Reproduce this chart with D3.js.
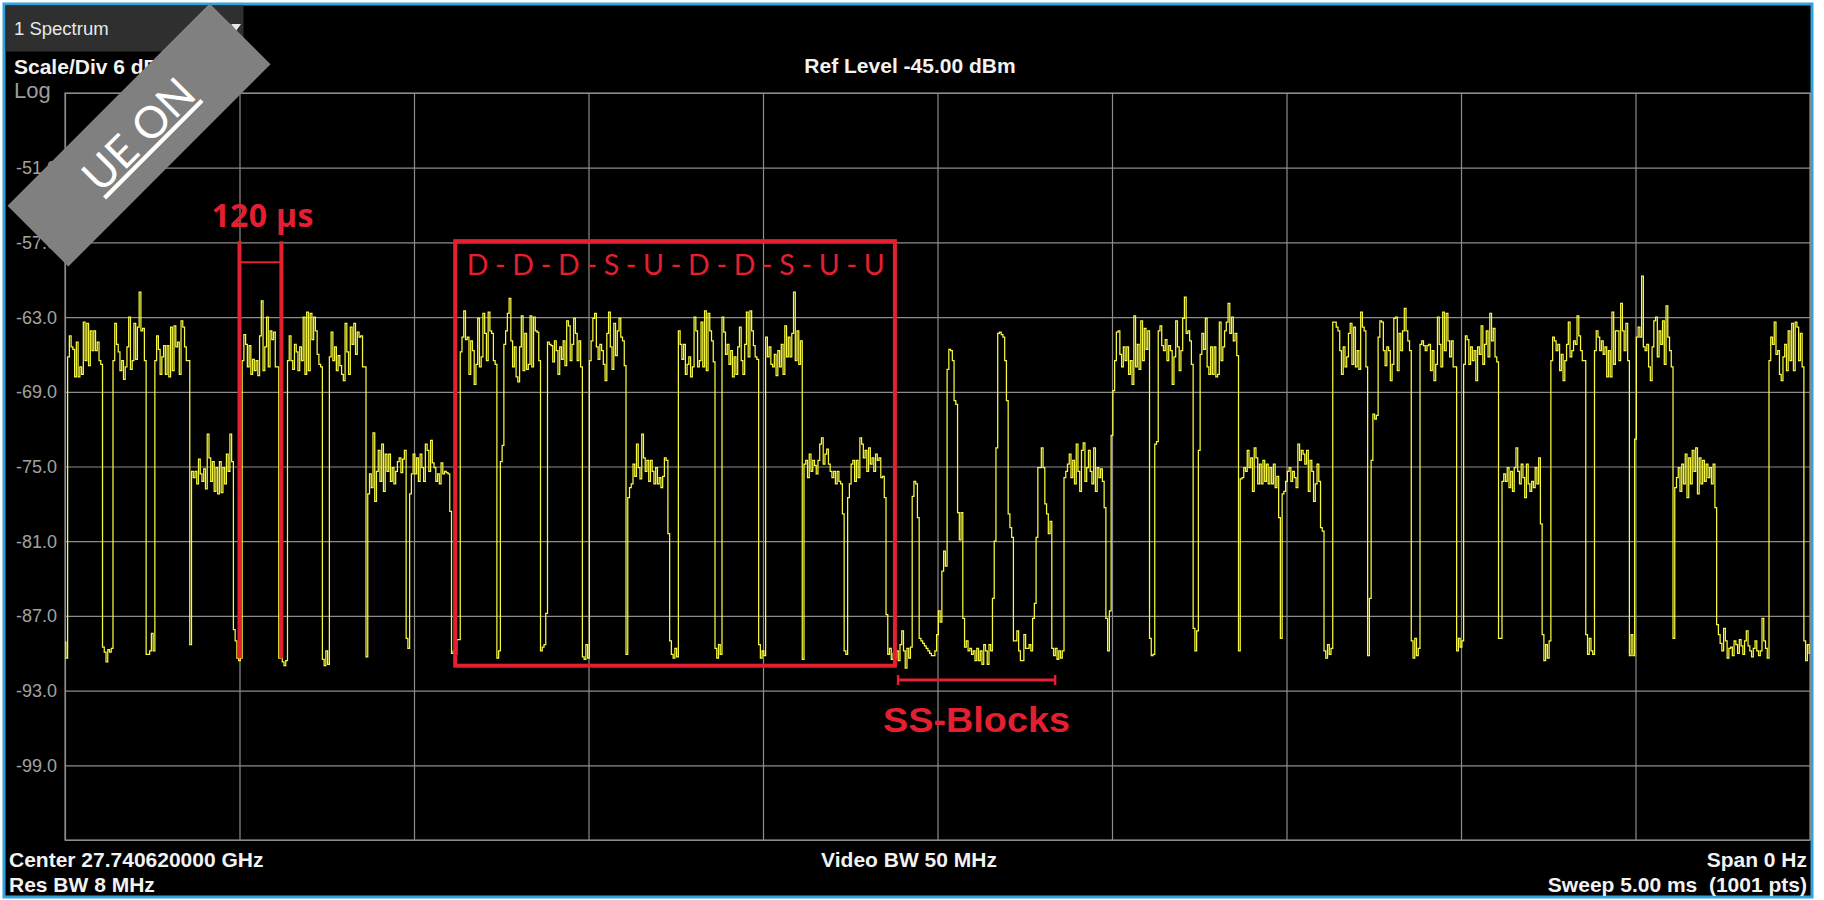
<!DOCTYPE html>
<html>
<head>
<meta charset="utf-8">
<title>1 Spectrum – zero span sweep</title>
<script src="https://cdn.jsdelivr.net/npm/d3@7/dist/d3.min.js"></script>
<style>
  html, body { margin: 0; padding: 0; background: #ffffff; }
  svg { display: block; }
</style>
</head>
<body>
<svg id="screen" width="1824" height="900"></svg>
<script>
// ---- Sweep settings ----
const sweepPoints = 1001;
const sweepTimeUs = 5000;
const refLevelDbm = -45;
const scaleDivDb = 6;
const gridDivisions = 10;

// ---- Level axis labels (dBm) ----
const levelTicks = [-51, -57, -63, -69, -75, -81, -87, -93, -99];

// ---- Trace: one level per sweep point (dBm), 20 points per row ----
const traceDbm = [
  -89.1,-90.4,-66.2,-64.5,-65.4,-65.6,-67.8,-65.0,-67.8,-67.0,-67.6,-63.4,-66.5,-63.5,-66.9,-64.1,-65.7,-64.1,-65.7,-65.0,
  -66.5,-66.8,-89.5,-89.9,-90.7,-89.7,-89.9,-89.6,-66.5,-63.5,-65.2,-65.8,-67.3,-66.5,-68.0,-67.0,-65.4,-63.0,-67.2,-66.5,
  -63.5,-66.4,-63.8,-61.0,-64.1,-63.9,-66.5,-90.1,-90.1,-89.8,-88.4,-89.8,-66.5,-64.5,-65.6,-67.6,-66.2,-65.3,-67.6,-65.3,
  -67.8,-63.8,-67.3,-63.7,-65.4,-65.0,-67.6,-63.3,-63.8,-65.4,-66.5,-66.5,-89.3,-75.4,-75.9,-75.4,-76.4,-74.4,-75.6,-76.2,
  -75.2,-76.8,-72.4,-74.3,-76.2,-74.6,-77.0,-75.1,-77.2,-74.6,-77.1,-75.1,-76.4,-74.0,-75.4,-72.4,-74.6,-88.1,-89.0,-90.4,
  -90.6,-90.4,-66.5,-64.4,-65.2,-67.0,-65.3,-67.6,-66.4,-67.3,-66.5,-67.7,-64.5,-61.7,-67.3,-65.4,-63.0,-67.0,-64.1,-64.8,
  -64.2,-67.0,-67.0,-90.4,-86.8,-90.7,-91.0,-90.6,-66.5,-64.5,-66.5,-67.2,-65.2,-65.8,-67.3,-65.4,-66.5,-63.0,-67.6,-62.6,
  -67.3,-62.7,-64.8,-63.0,-64.1,-66.0,-66.8,-67.0,-90.5,-91.0,-89.8,-90.9,-66.2,-64.2,-66.5,-65.4,-67.3,-66.1,-66.9,-67.6,
  -68.1,-63.5,-65.8,-67.6,-63.8,-65.2,-63.5,-66.0,-64.2,-64.6,-64.5,-67.0,-67.0,-90.3,-77.2,-75.6,-76.7,-72.3,-77.8,-75.4,
  -73.7,-76.2,-73.2,-77.0,-74.0,-75.4,-74.0,-76.2,-75.1,-76.4,-75.4,-74.6,-74.3,-75.5,-74.4,-73.7,-88.8,-89.6,-77.2,-75.6,
  -74.0,-75.6,-74.3,-76.2,-74.0,-75.1,-76.2,-73.2,-73.7,-75.4,-72.9,-74.7,-75.1,-76.2,-75.6,-76.4,-74.7,-75.6,-75.4,-75.5,
  -75.6,-78.6,-90.0,-89.8,-90.1,-88.9,-88.9,-65.8,-64.6,-62.5,-64.8,-64.6,-67.6,-64.9,-65.7,-68.4,-66.8,-63.1,-67.0,-66.2,
  -62.7,-64.3,-66.5,-62.6,-64.1,-64.3,-66.5,-66.8,-90.4,-89.8,-74.6,-73.3,-65.2,-64.1,-62.7,-61.5,-64.9,-67.0,-65.4,-67.8,
  -68.2,-65.4,-62.9,-67.3,-64.3,-67.2,-66.8,-62.9,-67.0,-63.0,-64.1,-64.2,-66.5,-89.8,-89.5,-89.3,-86.8,-65.0,-65.2,-65.3,
  -66.6,-64.9,-65.7,-67.6,-65.4,-66.4,-64.9,-66.9,-63.3,-63.7,-66.5,-65.2,-63.1,-64.3,-66.5,-64.9,-67.0,-90.3,-90.5,-89.3,
  -90.4,-66.5,-64.9,-63.1,-62.7,-65.4,-66.4,-65.2,-65.7,-66.8,-68.1,-64.3,-62.6,-65.4,-67.2,-63.5,-66.1,-64.1,-63.1,-64.6,
  -64.9,-66.9,-90.1,-77.5,-76.7,-76.4,-74.8,-75.8,-73.2,-75.1,-76.0,-72.4,-74.3,-75.4,-74.5,-76.2,-74.5,-75.4,-76.4,-75.1,
  -76.4,-75.9,-76.7,-75.8,-74.3,-74.5,-80.4,-89.0,-90.1,-90.4,-89.6,-90.3,-64.1,-65.2,-66.4,-65.2,-67.6,-66.8,-66.2,-67.8,
  -67.0,-63.0,-64.1,-67.0,-66.5,-63.4,-67.0,-62.5,-67.3,-62.7,-64.1,-64.9,-66.6,-89.6,-90.4,-89.3,-90.1,-63.0,-64.2,-66.0,
  -65.2,-66.8,-65.7,-67.8,-66.2,-67.6,-65.4,-63.8,-66.5,-67.6,-65.2,-62.6,-66.2,-62.5,-64.1,-65.3,-66.2,-66.4,-89.3,-90.4,
  -89.8,-90.2,-64.6,-66.2,-65.4,-66.8,-67.0,-66.0,-67.7,-65.7,-67.0,-65.2,-67.6,-63.7,-66.2,-64.6,-66.2,-64.3,-61.0,-66.5,
  -64.1,-66.8,-64.9,-90.5,-74.8,-74.5,-75.9,-74.0,-75.4,-74.5,-74.9,-75.6,-74.5,-73.2,-72.7,-74.8,-74.0,-73.6,-74.8,-75.4,
  -75.9,-75.4,-76.4,-75.4,-76.2,-76.4,-78.8,-89.8,-90.1,-77.5,-76.4,-74.8,-74.5,-76.2,-74.5,-75.9,-72.7,-73.2,-74.3,-73.7,
  -75.4,-73.5,-74.8,-74.3,-75.4,-74.0,-74.5,-74.3,-75.9,-75.8,-77.5,-86.9,-90.1,-89.6,-90.5,-90.0,-90.4,-89.8,-90.6,-89.3,
  -88.2,-89.8,-91.2,-89.6,-90.4,-89.5,-77.4,-76.2,-76.4,-79.1,-88.8,-89.0,-89.2,-89.4,-89.6,-89.8,-90.0,-90.2,-90.2,-89.8,
  -88.5,-86.6,-87.5,-83.4,-81.8,-83.0,-67.2,-65.6,-65.7,-66.5,-69.7,-70.0,-78.7,-80.9,-78.7,-87.2,-89.5,-89.0,-89.8,-89.6,
  -90.1,-89.8,-90.6,-89.6,-90.6,-89.8,-90.9,-89.3,-89.8,-90.9,-89.3,-89.8,-85.6,-81.0,-73.5,-64.3,-64.2,-64.4,-64.6,-66.5,
  -69.7,-78.8,-79.9,-80.7,-89.0,-89.0,-88.2,-89.8,-90.6,-90.6,-88.5,-89.6,-89.6,-89.3,-89.8,-87.2,-86.0,-80.7,-75.1,-75.1,
  -73.5,-75.1,-78.0,-78.8,-80.4,-79.4,-89.6,-90.2,-89.6,-90.5,-89.8,-90.4,-89.8,-75.9,-75.4,-74.8,-74.0,-75.9,-74.5,-76.4,
  -73.2,-75.4,-77.0,-73.7,-73.1,-76.2,-75.1,-73.7,-75.4,-76.4,-73.5,-77.0,-75.1,-75.9,-75.2,-76.2,-78.3,-87.2,-89.8,-86.6,
  -72.5,-68.9,-66.5,-64.2,-64.1,-66.0,-67.0,-65.4,-66.5,-65.4,-67.6,-66.5,-68.4,-62.9,-67.0,-65.2,-67.2,-63.3,-66.5,-63.9,
  -65.6,-64.1,-88.8,-90.2,-90.1,-73.2,-73.0,-64.1,-63.7,-65.3,-65.7,-64.8,-66.5,-65.3,-65.7,-68.4,-66.2,-63.3,-65.4,-67.3,
  -65.7,-63.1,-61.4,-64.3,-64.1,-64.9,-66.8,-88.0,-89.8,-88.2,-73.7,-66.0,-64.3,-65.6,-63.1,-67.0,-67.6,-65.4,-67.6,-65.4,
  -67.8,-67.6,-63.4,-66.5,-65.4,-64.1,-63.4,-61.9,-64.3,-63.0,-64.9,-64.3,-66.1,-89.8,-76.0,-75.9,-75.1,-75.4,-73.7,-75.1,
  -74.3,-77.0,-73.5,-74.3,-76.4,-74.8,-76.4,-74.5,-76.2,-74.8,-76.4,-75.1,-76.4,-74.8,-76.7,-75.8,-79.1,-88.8,-77.2,-77.0,
  -76.2,-75.4,-75.1,-76.2,-75.4,-75.9,-76.7,-73.2,-74.5,-73.7,-74.0,-74.8,-73.7,-77.0,-74.5,-75.4,-77.8,-76.4,-74.8,-76.2,
  -79.9,-80.2,-89.8,-90.4,-89.3,-90.1,-89.6,-63.4,-63.4,-63.8,-64.1,-65.7,-67.6,-65.4,-67.0,-66.2,-64.3,-63.5,-66.8,-63.8,
  -67.0,-65.7,-67.2,-62.6,-63.8,-64.1,-67.0,-90.2,-85.6,-74.5,-70.8,-71.2,-70.9,-64.6,-63.3,-63.4,-65.7,-66.9,-65.4,-65.7,
  -68.1,-66.8,-63.1,-63.0,-67.3,-64.3,-65.7,-64.1,-62.3,-64.1,-64.9,-65.7,-89.0,-90.4,-88.8,-90.2,-89.6,-65.2,-64.9,-65.3,
  -65.7,-65.3,-65.2,-67.3,-65.7,-68.1,-66.8,-63.0,-65.2,-67.0,-62.6,-65.7,-62.7,-64.9,-66.2,-64.9,-67.0,-67.0,-89.8,-88.8,
  -89.5,-89.0,-66.8,-64.5,-64.8,-66.8,-65.4,-66.5,-65.7,-68.1,-65.4,-66.0,-63.7,-66.8,-65.2,-64.1,-66.2,-62.7,-64.9,-63.9,
  -66.2,-66.6,-88.8,-88.8,-76.2,-75.6,-76.2,-75.1,-76.7,-75.4,-77.0,-75.1,-73.5,-75.4,-76.4,-74.8,-75.9,-77.5,-74.8,-76.4,
  -77.0,-76.2,-76.7,-75.1,-76.4,-74.3,-79.6,-88.5,-90.6,-89.3,-90.4,-89.0,-66.5,-64.6,-64.9,-65.7,-65.2,-67.3,-66.0,-68.1,
  -66.5,-65.2,-63.4,-66.2,-65.7,-64.9,-65.2,-62.9,-64.5,-65.7,-66.5,-66.5,-88.5,-90.1,-88.8,-89.8,-90.1,-65.7,-64.1,-64.6,
  -65.7,-64.9,-66.0,-65.4,-67.8,-65.7,-67.8,-62.6,-66.8,-64.1,-64.1,-66.5,-61.9,-64.1,-65.7,-63.5,-66.5,-90.2,-88.5,-90.2,
  -72.8,-64.6,-63.8,-64.6,-59.7,-65.4,-65.7,-65.2,-67.0,-68.1,-65.4,-63.3,-63.0,-66.2,-64.1,-65.2,-63.3,-66.8,-62.1,-64.6,
  -65.7,-67.0,-88.8,-76.7,-75.9,-75.1,-77.0,-74.8,-76.4,-74.0,-77.5,-74.3,-76.4,-73.7,-75.4,-73.5,-77.2,-74.3,-76.4,-74.5,
  -76.2,-74.8,-75.9,-75.1,-76.4,-74.8,-78.3,-87.7,-88.5,-89.2,-89.8,-88.0,-89.0,-90.4,-89.6,-89.5,-90.2,-89.0,-89.3,-90.0,
  -88.9,-89.4,-90.1,-89.0,-88.2,-89.4,-89.8,-90.3,-89.6,-89.0,-89.8,-90.2,-89.8,-87.2,-89.0,-89.6,-90.4,-66.5,-64.6,-65.2,
  -63.4,-66.0,-65.7,-67.6,-68.1,-66.2,-65.2,-67.3,-64.1,-66.5,-63.5,-67.3,-63.4,-63.8,-66.5,-64.3,-67.0,-89.0,-90.6,-89.3,
  -90.0
];

// ---- Slot pattern and timing annotations ----
const slotSequence = ["D", "D", "D", "S", "U", "D", "D", "S", "U", "U"];
const slotDurationUs = 120;
const slotMarkerStartUs = 500;
const patternWindowUs = [1118, 2378];
const ssBlockWindowUs = [2387, 2837];

// ---- Instrument readouts ----
const centerFreq = "Center 27.740620000 GHz";
const resBw = "Res BW 8 MHz";
const videoBw = "Video BW 50 MHz";
const spanText = "Span 0 Hz";
const sweepText = "Sweep 5.00 ms  (1001 pts)";

// ======================= drawing =======================
const svg = d3.select("#screen");
const plot = { left: 65, right: 1810, top: 93, bottom: 840 };
const gridColor = "#8c8c8c";
const red = "#e41f30";
const uiFont = "'Liberation Sans', Arial, sans-serif";

// instrument style numbers use an ASCII hyphen for the sign
const fmt = d3.formatLocale({ decimal: ".", thousands: ",", grouping: [3], currency: ["", ""], minus: "-" }).format;

const x = d3.scaleLinear().domain([0, sweepTimeUs]).range([plot.left, plot.right]);
const y = d3.scaleLinear()
  .domain([refLevelDbm - scaleDivDb * gridDivisions, refLevelDbm])
  .range([plot.bottom, plot.top]);

// screen frame
svg.append("rect")
  .attr("x", 4).attr("y", 4).attr("width", 1808).attr("height", 893)
  .attr("fill", "#000").attr("stroke", "#2ea3dd").attr("stroke-width", 3);

// window tab
svg.append("rect").attr("x", 5.5).attr("y", 5.5).attr("width", 238).attr("height", 46).attr("fill", "#2f2f2f");
svg.append("text").attr("x", 14).attr("y", 35)
  .attr("font-family", uiFont).attr("font-size", 18.5).attr("fill", "#e8e8e8").text("1 Spectrum");
svg.append("path").attr("d", "M231,24 L241,24 L236,31 Z").attr("fill", "#e8e8e8");

// grid
const gridX = svg.append("g")
  .attr("transform", `translate(0,${plot.bottom})`)
  .call(d3.axisBottom(x)
    .tickValues(d3.range(0, sweepTimeUs + 1, sweepTimeUs / gridDivisions))
    .tickSize(-(plot.bottom - plot.top)).tickFormat(""));
const gridY = svg.append("g")
  .attr("transform", `translate(${plot.left},0)`)
  .call(d3.axisLeft(y)
    .tickValues(d3.range(refLevelDbm - scaleDivDb * gridDivisions, refLevelDbm + 1, scaleDivDb))
    .tickSize(-(plot.right - plot.left)).tickFormat(""));
[gridX, gridY].forEach(g => {
  g.select(".domain").remove();
  g.selectAll(".tick line").attr("stroke", gridColor).attr("stroke-width", 1.2);
});
svg.append("rect")
  .attr("x", plot.left).attr("y", plot.top)
  .attr("width", plot.right - plot.left).attr("height", plot.bottom - plot.top)
  .attr("fill", "none").attr("stroke", gridColor).attr("stroke-width", 1.2);

// level labels
svg.append("g").selectAll("text").data(levelTicks).join("text")
  .attr("x", 16).attr("y", d => y(d)).attr("dy", "0.36em")
  .attr("font-family", uiFont).attr("font-size", 18).attr("fill", "#a2a2a2")
  .text(d => fmt(".1f")(d));

// header / footer readouts
const readout = (tx, ty, txt, anchor, opts = {}) => svg.append("text")
  .attr("x", tx).attr("y", ty).attr("text-anchor", anchor || "start")
  .attr("font-family", uiFont).attr("font-size", opts.size || 21)
  .attr("font-weight", opts.weight || "bold").attr("fill", opts.fill || "#f2f2f2")
  .style("white-space", "pre")
  .text(txt);
readout(14, 74, `Scale/Div ${scaleDivDb} dB`);
readout(14, 98, "Log", "start", { size: 22, weight: "normal", fill: "#9c9c9c" });
readout(910, 73, `Ref Level ${fmt(".2f")(refLevelDbm)} dBm`, "middle");
readout(9, 867, centerFreq);
readout(9, 892, resBw);
readout(909, 867, videoBw, "middle");
readout(1807, 867, spanText, "end");
readout(1807, 892, sweepText, "end");

// trace
const tOf = i => i * sweepTimeUs / (sweepPoints - 1);
svg.append("path")
  .datum(traceDbm)
  .attr("fill", "none").attr("stroke", "#f8f83c").attr("stroke-width", 1.25)
  .attr("d", d3.line().x((d, i) => x(tOf(i))).y(d => y(d)).curve(d3.curveStep));

// ---- annotations ----
const ann = svg.append("g");

// slot duration marker
const m0 = slotMarkerStartUs, m1 = slotMarkerStartUs + slotDurationUs;
[m0, m1].forEach(t => ann.append("line")
  .attr("x1", x(t)).attr("x2", x(t)).attr("y1", y(-56.9)).attr("y2", y(-90.4))
  .attr("stroke", red).attr("stroke-width", 4));
ann.append("line")
  .attr("x1", x(m0)).attr("x2", x(m1)).attr("y1", y(-58.6)).attr("y2", y(-58.6))
  .attr("stroke", red).attr("stroke-width", 2);
ann.append("text")
  .attr("x", (x(m0) + x(m1)) / 2 + 2).attr("y", y(-55.8)).attr("text-anchor", "middle")
  .attr("font-family", "'Open Sans', sans-serif").attr("font-weight", "bold").attr("font-size", 32)
  .attr("fill", red).attr("textLength", 102).attr("lengthAdjust", "spacing")
  .text(`${slotDurationUs} \u00b5s`);

// TDD pattern window
ann.append("rect")
  .attr("x", x(patternWindowUs[0])).attr("y", y(-56.9))
  .attr("width", x(patternWindowUs[1]) - x(patternWindowUs[0]))
  .attr("height", y(-91.0) - y(-56.9))
  .attr("fill", "none").attr("stroke", red).attr("stroke-width", 4);
ann.append("text")
  .attr("x", x(1151)).attr("y", y(-59.6))
  .attr("font-family", "Lato, sans-serif").attr("font-size", 28.5).attr("fill", red)
  .attr("textLength", 418).attr("lengthAdjust", "spacing")
  .text(slotSequence.join(" - "));

// SS-block burst bracket
const ssY = y(-92.15);
ann.append("line")
  .attr("x1", x(ssBlockWindowUs[0])).attr("x2", x(ssBlockWindowUs[1])).attr("y1", ssY).attr("y2", ssY)
  .attr("stroke", red).attr("stroke-width", 3);
ssBlockWindowUs.forEach(t => ann.append("line")
  .attr("x1", x(t)).attr("x2", x(t)).attr("y1", ssY - 5).attr("y2", ssY + 5)
  .attr("stroke", red).attr("stroke-width", 2.5));
ann.append("text")
  .attr("x", x(2344)).attr("y", y(-96.3))
  .attr("font-family", uiFont).attr("font-weight", "bold").attr("font-size", 35)
  .attr("fill", red).attr("textLength", 187).attr("lengthAdjust", "spacingAndGlyphs")
  .text("SS-Blocks");

// UE state banner
const banner = svg.append("g").attr("transform", "translate(139,135) rotate(-45)");
banner.append("rect").attr("x", -143).attr("y", -43).attr("width", 286).attr("height", 86).attr("fill", "#808080");
banner.append("text")
  .attr("x", 0).attr("y", 15).attr("text-anchor", "middle")
  .attr("font-family", "Lato, sans-serif").attr("font-size", 44).attr("fill", "#ffffff")
  .attr("text-decoration", "underline")
  .text("UE ON");
</script>
</body>
</html>
